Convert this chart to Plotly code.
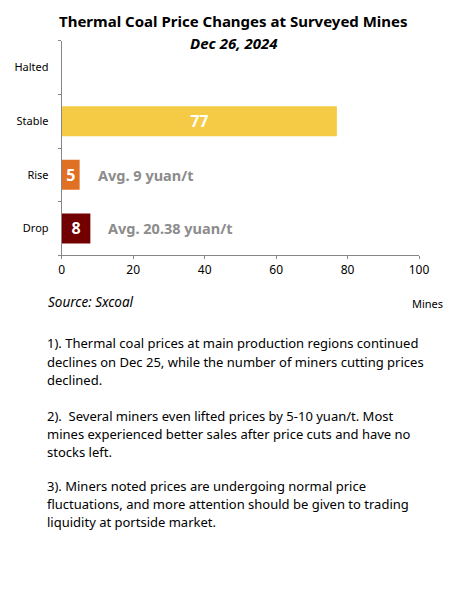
"""
Thermal coal price changes at surveyed mines - horizontal bar chart
"""
import plotly.graph_objects as go

# page body has an 8px margin on every side; keep the figure short enough
# that no scrollbar shows up and squeezes it sideways
PAD = 8
W, H = 462 - 2 * PAD, 560

# data
categories = ["Drop", "Rise", "Stable", "Halted"]
mine_counts = [8, 5, 77, 0]
bar_labels = ["8", "5", "77", ""]
bar_colors = ["#720000", "#E07024", "#F5CB45", "#F5CB45"]
avg_notes = {"Drop": "Avg. 20.38 yuan/t", "Rise": "Avg. 9 yuan/t"}
x_ticks = [0, 20, 40, 60, 80, 100]

title = "Thermal Coal Price Changes at Surveyed Mines"
subtitle = "Dec 26, 2024"
source = "Source: Sxcoal"
unit = "Mines"
comments = [
    ["1). Thermal coal prices at main production regions continued",
     "declines on Dec 25, while the number of miners cutting prices",
     "declined."],
    ["2).  Several miners even lifted prices by 5-10 yuan/t. Most",
     "mines experienced better sales after price cuts and have no",
     "stocks left."],
    ["3). Miners noted prices are undergoing normal price",
     "fluctuations, and more attention should be given to trading",
     "liquidity at portside market."],
]

FONT = "Noto Sans"
AXIS_GREY = "#868686"


def px_y(y):
    """window pixel row -> paper y"""
    return 1 - (y - PAD) / H


def px_x(x):
    return (x - PAD) / W


fig = go.Figure()
fig.add_trace(go.Bar(
    y=categories, x=mine_counts, orientation="h",
    marker=dict(color=bar_colors, line=dict(width=0)),
    text=bar_labels, textposition="inside", insidetextanchor="middle",
    constraintext="none",
    textfont=dict(family=FONT, size=16, color="white", weight="bold"),
    hoverinfo="skip",
))

# grey notes next to the short bars
for cat, note in avg_notes.items():
    val = mine_counts[categories.index(cat)]
    fig.add_annotation(x=val, y=cat, xref="x", yref="y", text=note,
                       showarrow=False, xanchor="left", xshift=16,
                       font=dict(family=FONT, size=14.5, color="#8C8C8C", weight="bold"))

fig.update_layout(
    width=W, height=H, autosize=False,
    margin=dict(l=0, r=0, t=0, b=0),
    paper_bgcolor="white", plot_bgcolor="white",
    showlegend=False, bargap=0.44,
    font=dict(family=FONT, size=11, color="black"),
)
fig.update_xaxes(
    domain=[px_x(60.3), px_x(428.3)], range=[0, 100],
    tickvals=x_ticks, ticks="outside", ticklen=3, tickcolor=AXIS_GREY,
    showline=True, linecolor=AXIS_GREY, linewidth=1,
    showgrid=False, zeroline=False, fixedrange=True,
    tickfont=dict(family=FONT, size=12, color="black"),
)
fig.update_yaxes(
    domain=[px_y(255.3), px_y(40.7)], type="category",
    categoryorder="array", categoryarray=categories,
    ticks="outside", ticklen=3, tickcolor=AXIS_GREY, tickson="boundaries",
    ticklabelstandoff=10,
    showline=True, linecolor=AXIS_GREY, linewidth=1,
    showgrid=False, zeroline=False, fixedrange=True,
    tickfont=dict(family=FONT, size=11, color="black"),
)

# titles
fig.add_annotation(x=px_x(237.5), y=px_y(20.5), xref="paper", yref="paper", text="<b>" + title + "</b>",
                   showarrow=False, xanchor="center", yanchor="middle",
                   font=dict(family=FONT, size=15, color="black"))
fig.add_annotation(x=px_x(237.5), y=px_y(42.7), xref="paper", yref="paper", text="<b><i>" + subtitle + "</i></b>",
                   showarrow=False, xanchor="center", yanchor="middle",
                   font=dict(family=FONT, size=15, color="black"))

fig.add_annotation(x=px_x(44), y=px_y(302.3), xref="paper", yref="paper", text="<i>" + source + "</i>",
                   showarrow=False, xanchor="left", yanchor="middle",
                   font=dict(family=FONT, size=13.5, color="black"))
fig.add_annotation(x=px_x(455), y=px_y(303.7), xref="paper", yref="paper", text=unit,
                   showarrow=False, xanchor="right", yanchor="middle",
                   font=dict(family=FONT, size=11, color="black"))

# commentary paragraphs, one annotation per line
para_tops = [343.3, 415.7, 485.7]
line_step = 18.2
for top, lines in zip(para_tops, comments):
    for i, line in enumerate(lines):
        fig.add_annotation(x=px_x(42.7), y=px_y(top + i * line_step), xref="paper", yref="paper",
                           text=line, showarrow=False, xanchor="left", yanchor="middle",
                           font=dict(family=FONT, size=13, color="black"))

fig.write_html("out.html", config={"responsive": False})
